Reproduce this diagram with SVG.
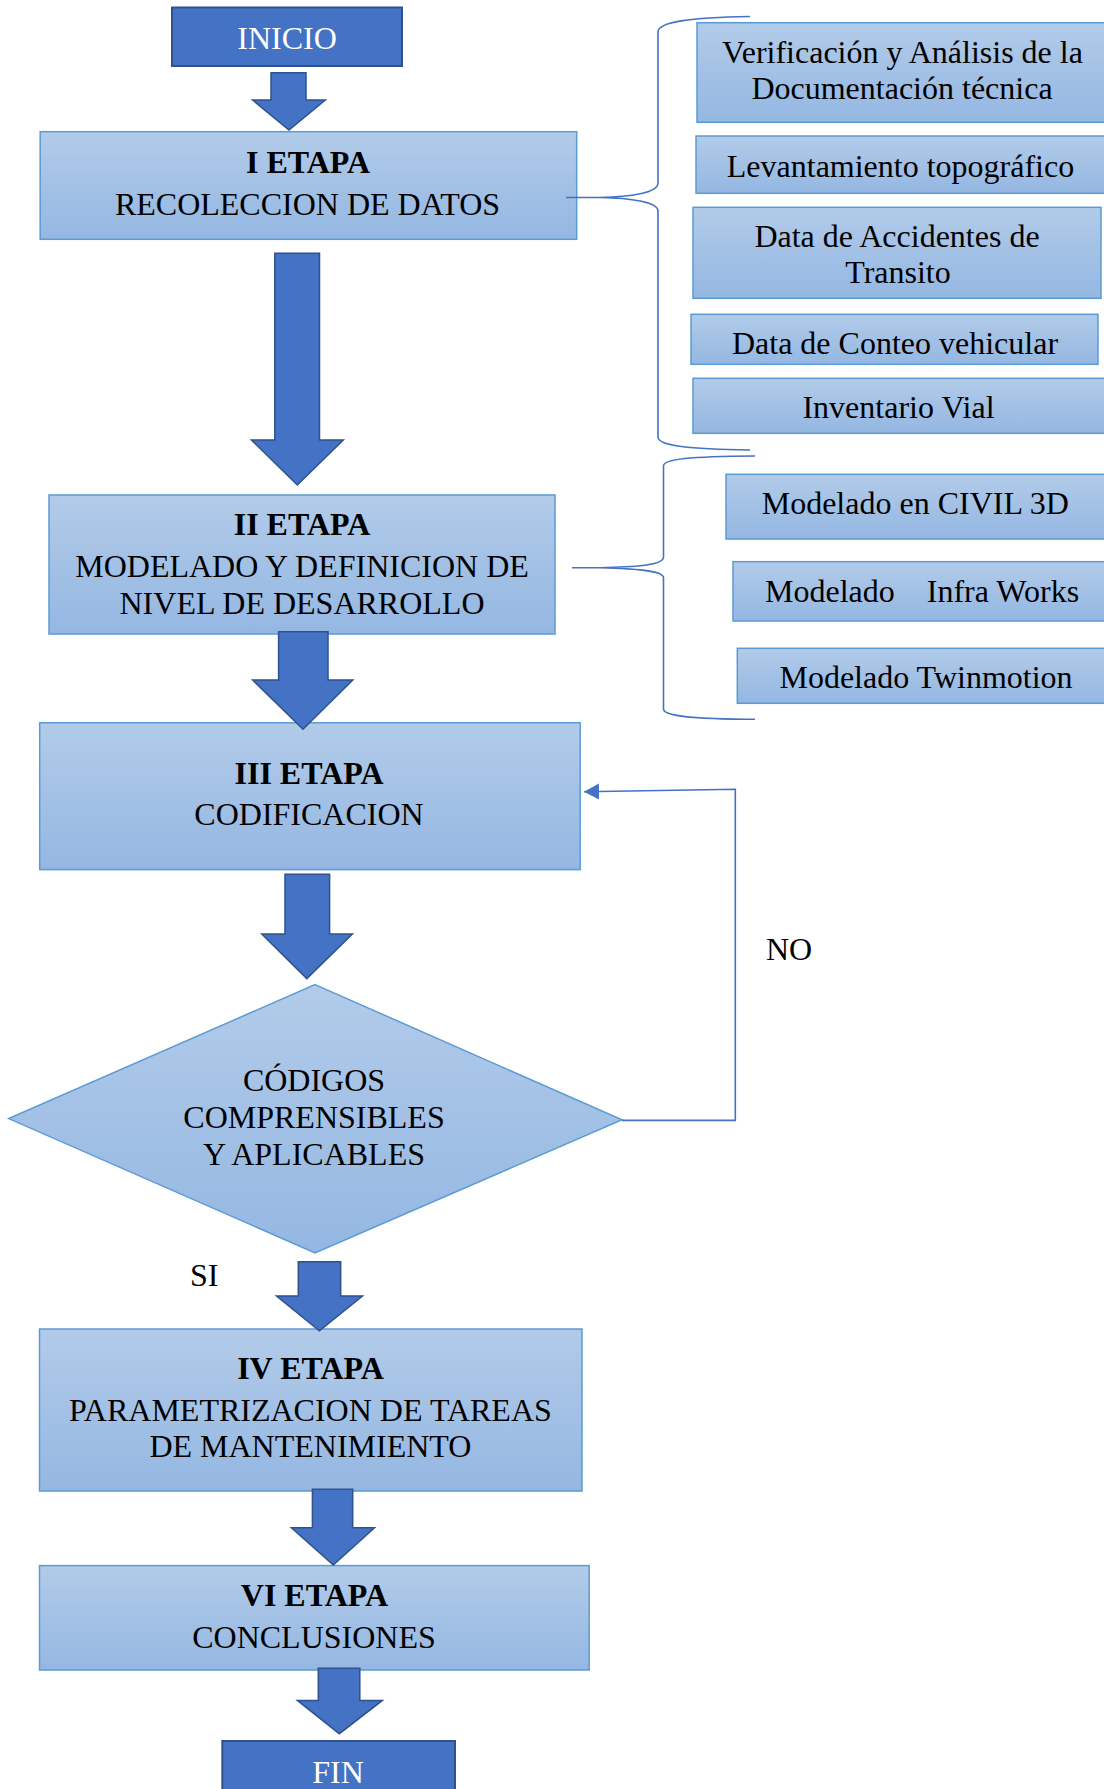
<svg xmlns="http://www.w3.org/2000/svg" width="1104" height="1789" viewBox="0 0 1104 1789">
<style>
  .t { font-family: "Liberation Serif", "Times New Roman", serif; font-size: 32px; fill: #000; text-anchor: middle; }
  .b { font-weight: bold; }
  .w { fill: #fff; }
  .st { text-anchor: start; }
  .box { fill: url(#g); stroke: #5B9BD5; stroke-width: 1.5; }
  .dark { fill: #4472C4; stroke: #2F528F; stroke-width: 2; }
  .arr { fill: #4472C4; stroke: #2F528F; stroke-width: 1.5; stroke-linejoin: miter; }
  .line { fill: none; stroke: #4472C4; stroke-width: 1.6; }
</style>
<defs>
  <linearGradient id="g" x1="0" y1="0" x2="0" y2="1">
    <stop offset="0" stop-color="#B2CBE9"/>
    <stop offset="1" stop-color="#94B7E2"/>
  </linearGradient>
  <marker id="ah" markerUnits="userSpaceOnUse" markerWidth="16" markerHeight="16" viewBox="0 0 16 16" refX="15" refY="8" orient="auto">
    <path d="M0,0 L15,8 L0,16 z" fill="#4472C4"/>
  </marker>
</defs>
<rect width="1104" height="1789" fill="#fff"/>

<g id="inicio">
  <rect class="dark" x="172" y="7.5" width="230" height="58.5"/>
  <text class="t w" x="287" y="48.5">INICIO</text>
</g>
<g id="etapa1">
  <rect class="box" x="40.2" y="131.7" width="536.5" height="107.6"/>
  <text class="t b" x="308" y="173.3">I ETAPA</text>
  <text class="t" x="307.5" y="215">RECOLECCION DE DATOS</text>
</g>
<g id="etapa2">
  <rect class="box" x="49" y="495" width="506" height="139"/>
  <text class="t b" x="302" y="535">II ETAPA</text>
  <text class="t" x="302" y="577.3">MODELADO Y DEFINICION DE</text>
  <text class="t" x="302" y="614">NIVEL DE DESARROLLO</text>
</g>
<g id="etapa3">
  <rect class="box" x="39.7" y="722.8" width="540.5" height="146.8"/>
  <text class="t b" x="309" y="784">III ETAPA</text>
  <text class="t" x="309" y="825">CODIFICACION</text>
</g>
<g id="decision">
  <polygon class="box" points="315,984.6 622,1119.8 315,1252.9 8.7,1118.6"/>
  <text class="t" x="314" y="1091">CÓDIGOS</text>
  <text class="t" x="314" y="1127.5">COMPRENSIBLES</text>
  <text class="t" x="314" y="1165">Y APLICABLES</text>
</g>
<g id="etapa4">
  <rect class="box" x="39.5" y="1329" width="542.5" height="162"/>
  <text class="t b" x="310.5" y="1379.4">IV ETAPA</text>
  <text class="t" x="310.4" y="1421">PARAMETRIZACION DE TAREAS</text>
  <text class="t" x="310.4" y="1457">DE MANTENIMIENTO</text>
</g>
<g id="etapa6">
  <rect class="box" x="39.5" y="1565.6" width="549.7" height="104.4"/>
  <text class="t b" x="314.4" y="1606">VI ETAPA</text>
  <text class="t" x="314" y="1648">CONCLUSIONES</text>
</g>
<g id="fin">
  <rect class="dark" x="222.3" y="1741" width="232.7" height="60"/>
  <text class="t w" x="338" y="1782.5">FIN</text>
</g>

<g id="sub-verificacion">
  <rect class="box" x="697" y="22.7" width="409" height="99.6"/>
  <text class="t" x="902.5" y="62.7">Verificación y Análisis de la</text>
  <text class="t" x="902" y="99.3">Documentación técnica</text>
</g>
<g id="sub-levantamiento">
  <rect class="box" x="696" y="136" width="410" height="57.3"/>
  <text class="t" x="900.5" y="176.7">Levantamiento topográfico</text>
</g>
<g id="sub-accidentes">
  <rect class="box" x="693" y="207.3" width="408" height="91"/>
  <text class="t" x="897" y="246.7">Data de Accidentes de</text>
  <text class="t" x="898" y="283.3">Transito</text>
</g>
<g id="sub-conteo">
  <rect class="box" x="691" y="314.3" width="407" height="50"/>
  <text class="t" x="895" y="354.3">Data de Conteo vehicular</text>
</g>
<g id="sub-inventario">
  <rect class="box" x="693" y="378.3" width="413" height="55"/>
  <text class="t" x="898.5" y="418.3">Inventario Vial</text>
</g>
<g id="sub-civil3d">
  <rect class="box" x="726" y="474.3" width="380" height="64.7"/>
  <text class="t" x="915.3" y="514">Modelado en CIVIL 3D</text>
</g>
<g id="sub-infraworks">
  <rect class="box" x="733" y="561.7" width="373" height="59.3"/>
  <text class="t st" x="765" y="601.7" xml:space="preserve" style="white-space:pre">Modelado    Infra Works</text>
</g>
<g id="sub-twinmotion">
  <rect class="box" x="737.3" y="648.3" width="368.7" height="55"/>
  <text class="t" x="926" y="688.3">Modelado Twinmotion</text>
</g>

<g id="connectors">
  <polygon class="arr" points="271,72.7 306,72.7 306,100 325.3,100 289,130 252.6,100 271,100"/>
  <polygon class="arr" points="274.8,253.3 319.5,253.3 319.5,440 343.3,440 297.3,485 251.4,440 274.8,440"/>
  <polygon class="arr" points="278.6,631.7 328,631.7 328,680 352.8,680 303,729.3 252.6,680 278.6,680"/>
  <polygon class="arr" points="285,874.3 329.6,874.3 329.6,934 352.4,934 306.8,978.6 261.8,934 285,934"/>
  <polygon class="arr" points="298.3,1261.7 340.7,1261.7 340.7,1296 362.5,1296 319.4,1330.8 276.5,1296 298.3,1296"/>
  <polygon class="arr" points="312.4,1489.3 352.7,1489.3 352.7,1527.8 374.5,1527.8 333.3,1565 291.4,1527.8 312.4,1527.8"/>
  <polygon class="arr" points="318.3,1668.2 359.8,1668.2 359.8,1700.4 382.4,1700.4 339.3,1733.7 297.4,1700.4 318.3,1700.4"/>
  <path class="line" d="M622,1120.4 L735.3,1120.4 L735.3,789.3 L584,791.7" marker-end="url(#ah)"/>
  <path class="line" d="M566,197.5 L600,197.5 C630,197 658,193 658,183 L658,32 C658,22 690,17.5 750,16.5 M600,197.5 C630,198 658,202 658,211 L658,437 C658,446 690,449 750,450"/>
  <path class="line" d="M572,567.7 L600,567.7 C630,567 663.5,566 663.5,557.3 L663.5,466 C663.5,459 690,456.5 755,456 M600,567.7 C630,568.5 663.5,570 663.5,577.7 L663.5,709 C663.5,716 690,719 755,719.3"/>
</g>

<g id="labels">
  <text class="t st" x="766" y="960">NO</text>
  <text class="t st" x="190" y="1286">SI</text>
</g>
</svg>
